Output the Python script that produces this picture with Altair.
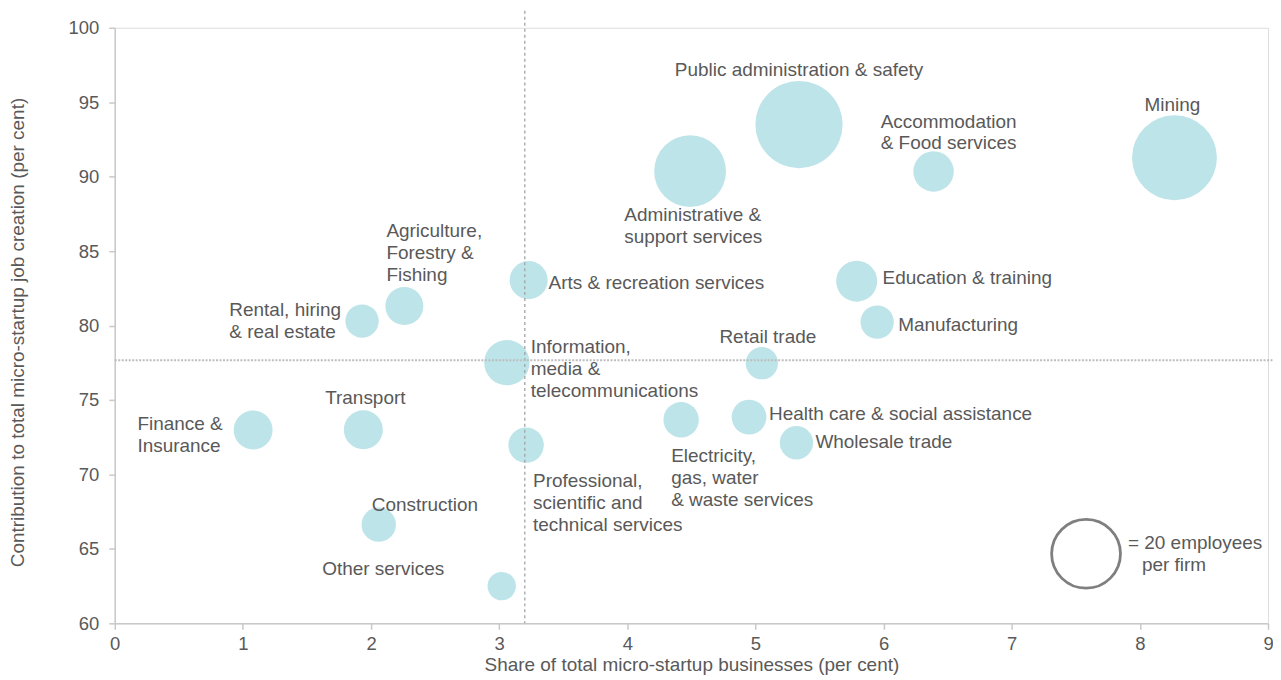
import altair as alt
import pandas as pd

# ---------------- data ----------------
industries = [
    "Mining", "Public administration & safety", "Administrative & support services",
    "Accommodation & Food services", "Education & training", "Manufacturing",
    "Retail trade", "Health care & social assistance", "Wholesale trade",
    "Electricity, gas, water & waste services",
    "Professional, scientific and technical services", "Arts & recreation services",
    "Information, media & telecommunications", "Agriculture, Forestry & Fishing",
    "Rental, hiring & real estate", "Transport", "Finance & Insurance",
    "Construction", "Other services",
]
labels = [
    "Mining", "Public administration & safety", "Administrative &\nsupport services",
    "Accommodation\n& Food services", "Education & training", "Manufacturing",
    "Retail trade", "Health care & social assistance", "Wholesale trade",
    "Electricity,\ngas, water\n& waste services",
    "Professional,\nscientific and\ntechnical services", "Arts & recreation services",
    "Information,\nmedia &\ntelecommunications", "Agriculture,\nForestry &\nFishing",
    "Rental, hiring\n& real estate", "Transport", "Finance &\nInsurance",
    "Construction", "Other services",
]
share = [8.27, 5.34, 4.49, 6.39, 5.79, 5.95, 5.05, 4.95, 5.32, 4.42,
         3.21, 3.23, 3.06, 2.26, 1.93, 1.94, 1.08, 2.06, 3.02]
contribution = [91.27, 93.50, 90.37, 90.35, 82.98, 80.23, 77.47, 73.85, 72.13, 73.67,
                71.97, 83.05, 77.51, 81.31, 80.30, 73.00, 72.98, 66.63, 62.50]
employees = [30.4, 32.1, 21.8, 6.9, 7.1, 4.7, 4.4, 5.1, 4.7, 5.3,
             5.3, 6.1, 8.7, 6.1, 4.7, 6.4, 6.4, 5.0, 3.4]

avg_share = 3.20
avg_contribution = 77.67

legend_value = 20
legend_share = 7.58
legend_contribution = 64.67

x_ticks = [0, 1, 2, 3, 4, 5, 6, 7, 8, 9]
y_ticks = [60, 65, 70, 75, 80, 85, 90, 95, 100]

df = pd.DataFrame({"industry": industries, "label": labels, "share": share,
                   "contribution": contribution, "employees": employees})

# ---------------- styles ----------------
FONT = "Liberation Sans"
TEXT = "#595959"
AXIS = "#C9C9C9"
BUBBLE = "#BDE4E9"

# label placement: align, dx, dy (pixels from bubble centre to first text line)
label_layout = {
    "Public administration & safety": ("center", 0, -55),
    "Mining": ("center", -2, -53),
    "Accommodation & Food services": ("left", -53, -50),
    "Administrative & support services": ("left", -66, 44),
    "Agriculture, Forestry & Fishing": ("left", -18, -75),
    "Rental, hiring & real estate": ("left", -133, -11),
    "Arts & recreation services": ("left", 20, 3),
    "Education & training": ("left", 26, -3),
    "Manufacturing": ("left", 21, 3),
    "Retail trade": ("center", 6, -26),
    "Information, media & telecommunications": ("left", 24, -16),
    "Health care & social assistance": ("left", 20, -3),
    "Wholesale trade": ("left", 19, -1),
    "Electricity, gas, water & waste services": ("left", -10, 36),
    "Professional, scientific and technical services": ("left", 7, 36),
    "Transport": ("center", 2, -32),
    "Finance & Insurance": ("left", -116, -6),
    "Construction": ("left", -7, -20),
    "Other services": ("left", -180, -17),
}

axis_common = dict(
    domainColor=AXIS, domainWidth=1.5, tickColor=AXIS, tickWidth=1.5, tickSize=6,
    labelFont=FONT, labelFontSize=18.5, labelColor=TEXT, labelFlush=False,
    titleFont=FONT, titleFontSize=19, titleFontWeight="normal", titleColor=TEXT,
    grid=False,
)

x_enc = alt.X(
    "share:Q",
    scale=alt.Scale(domain=[0, 9], nice=False, zero=False),
    axis=alt.Axis(values=x_ticks, title="Share of total micro-startup businesses (per cent)",
                  labelPadding=5, titleY=41, titleBaseline="middle", **axis_common),
)
y_enc = alt.Y(
    "contribution:Q",
    scale=alt.Scale(domain=[60, 100], nice=False, zero=False),
    axis=alt.Axis(values=y_ticks, title="Contribution to total micro-startup job creation (per cent)",
                  labelPadding=10, titleX=-97, titleY=305, titleBaseline="middle",
                  **axis_common),
)
size_enc = alt.Size("employees:Q", scale=alt.Scale(domain=[0, 40], range=[0, 9522]), legend=None)

bubbles = alt.Chart(df).mark_circle(color=BUBBLE, opacity=1).encode(
    x=x_enc, y=y_enc, size=size_enc
)

vline = alt.Chart(pd.DataFrame({"share": [avg_share]})).mark_rule(
    color="#A3A3A3", strokeDash=[3, 3], strokeWidth=1.3
).encode(x=x_enc, y=alt.value(-17), y2=alt.value(597))

hline = alt.Chart(pd.DataFrame({"contribution": [avg_contribution]})).mark_rule(
    color="#BDBDBD", strokeDash=[2, 1.5], strokeWidth=2
).encode(y=y_enc, x=alt.value(0), x2=alt.value(1166))

legend_df = pd.DataFrame({"share": [legend_share], "contribution": [legend_contribution],
                          "employees": [legend_value]})
legend_circle = alt.Chart(legend_df).mark_point(
    shape="circle", filled=False, stroke="#7F7F7F", strokeWidth=2.8, opacity=1
).encode(x=x_enc, y=y_enc, size=size_enc)

legend_text1 = alt.Chart(legend_df).mark_text(
    align="left", baseline="middle", dx=42, dy=-11, font=FONT, fontSize=19, color=TEXT
).encode(x=x_enc, y=y_enc, text=alt.value(f"= {legend_value} employees"))
legend_text2 = alt.Chart(legend_df).mark_text(
    align="left", baseline="middle", dx=56, dy=11, font=FONT, fontSize=19, color=TEXT
).encode(x=x_enc, y=y_enc, text=alt.value("per firm"))

label_layers = []
for name, (align, dx, dy) in label_layout.items():
    label_layers.append(
        alt.Chart(df).transform_filter(alt.datum.industry == name).mark_text(
            align=align, baseline="middle", dx=dx, dy=dy, lineBreak="\n", lineHeight=22,
            font=FONT, fontSize=19, color=TEXT
        ).encode(x=x_enc, y=y_enc, text="label:N")
    )

chart = alt.layer(
    bubbles, vline, hline, legend_circle, legend_text1, legend_text2, *label_layers
).properties(
    width=1156, height=597,
    autosize=alt.AutoSizeParams(type="none"),
    padding={"left": 107, "top": 19, "right": 5, "bottom": 52},
).configure_view(stroke=None).configure(background="white")

chart.save("out.html", embed_options={"renderer": "svg", "actions": False})
